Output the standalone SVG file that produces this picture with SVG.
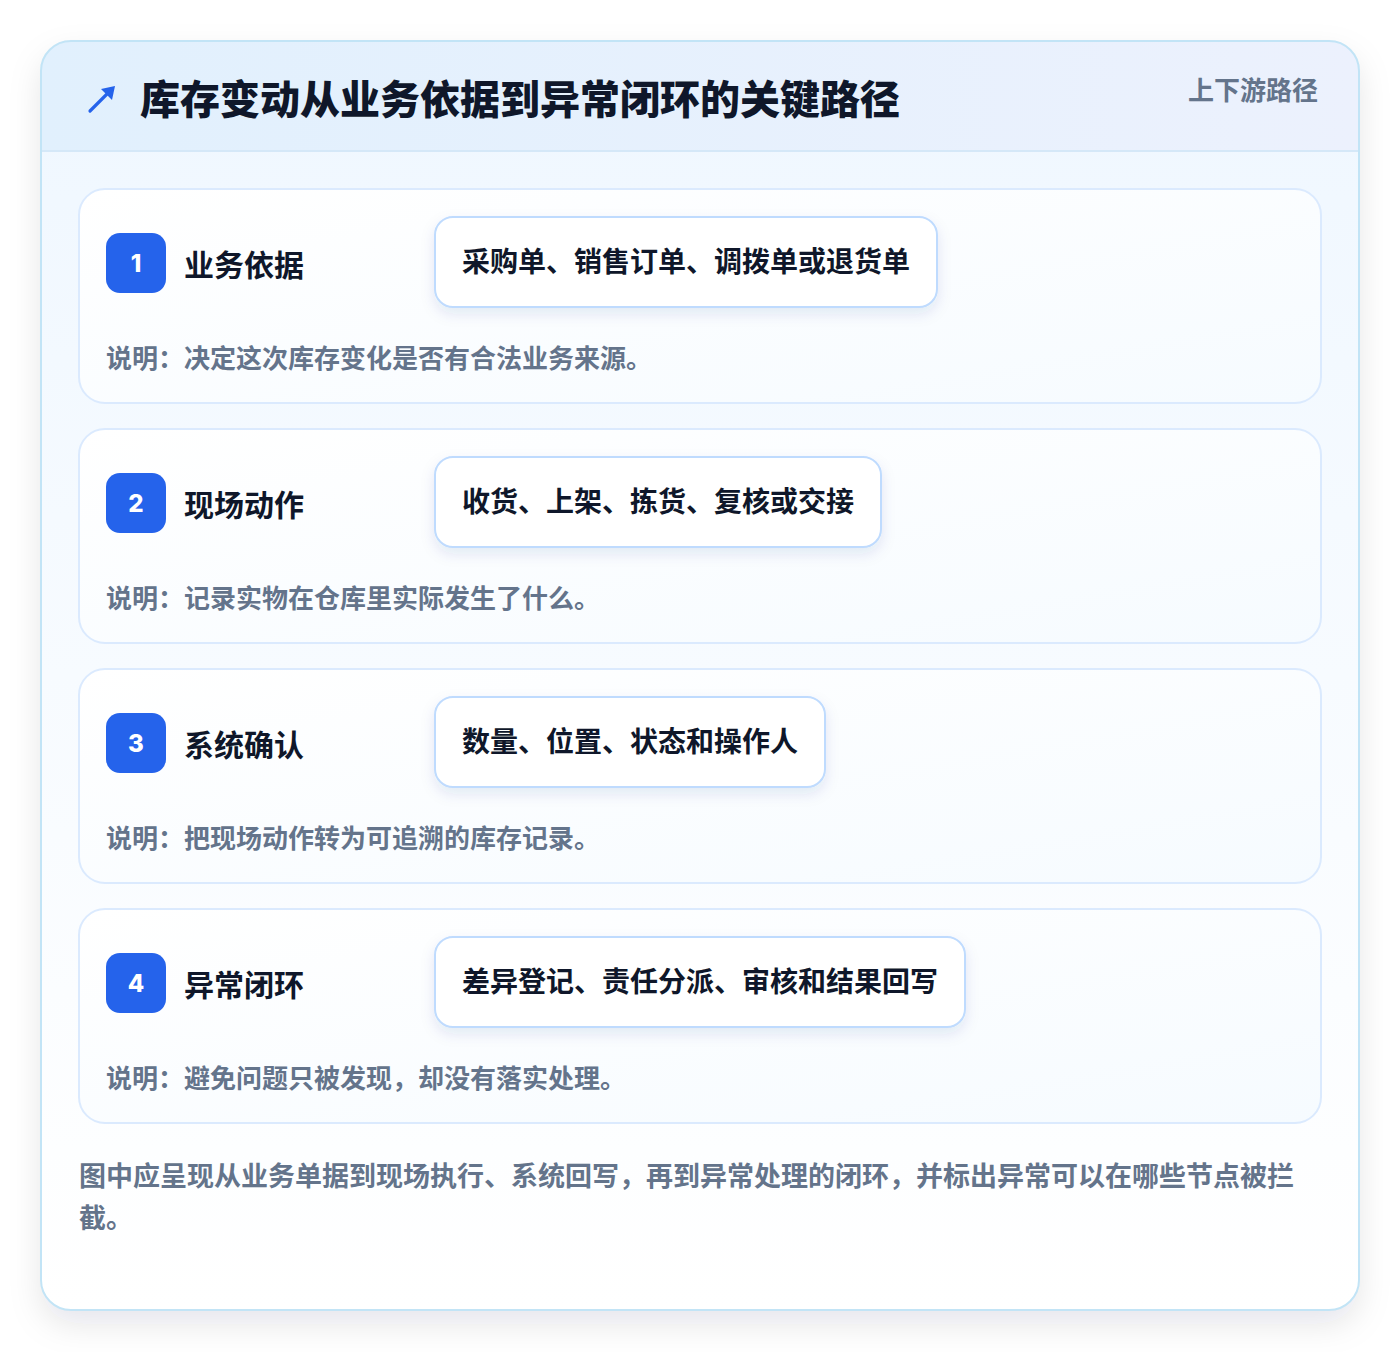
<svg xmlns="http://www.w3.org/2000/svg" width="1400" height="1352" viewBox="0 0 1400 1352">
<defs>
<style>
.cjk{font-family:"Noto Sans CJK SC","Noto Sans",sans-serif;font-weight:700}
.title{font-size:40px;fill:#0f172a;font-weight:900}
.tag{font-size:26px;fill:#64748b}
.step{fill:url(#cardGrad);stroke:#dbeafe;stroke-width:2}
.badge{fill:#2563eb}
.num{font-family:"Inter","Liberation Sans",sans-serif;font-weight:800;font-size:24px;fill:#ffffff}
.stitle{font-size:30px;fill:#0f172a}
.pill{fill:#ffffff;stroke:#bfdbfe;stroke-width:2}
.ptext{font-size:28px;fill:#0f172a}
.desc{font-size:26px;fill:#64748b}
.foot{font-size:27px;fill:#64748b}
</style>
<linearGradient id="outerGrad" x1="0" y1="0" x2="0" y2="1">
<stop offset="0" stop-color="#eff7ff"/>
<stop offset="1" stop-color="#ffffff"/>
</linearGradient>
<linearGradient id="headGrad" x1="0" y1="0" x2="1" y2="0">
<stop offset="0" stop-color="#e1f0fd"/>
<stop offset="1" stop-color="#ecf1fd"/>
</linearGradient>
<linearGradient id="cardGrad" x1="0" y1="0" x2="1" y2="1">
<stop offset="0" stop-color="#ffffff"/>
<stop offset="1" stop-color="#f6fbff"/>
</linearGradient>
<filter id="outerShadow" x="-10%" y="-10%" width="120%" height="120%">
<feDropShadow dx="0" dy="14" stdDeviation="16" flood-color="#0f172a" flood-opacity="0.10"/>
</filter>
<filter id="pillShadow" x="-10%" y="-30%" width="120%" height="160%">
<feDropShadow dx="0" dy="6" stdDeviation="7" flood-color="#1e3a8a" flood-opacity="0.10"/>
</filter>
<clipPath id="outerClip">
<rect x="41" y="41" width="1318" height="1269" rx="30"/>
</clipPath>
</defs>
<rect x="0" y="0" width="1400" height="1352" fill="#ffffff"/>
<g id="frame">
<rect x="41" y="41" width="1318" height="1269" rx="30" fill="url(#outerGrad)" filter="url(#outerShadow)"/>
<g clip-path="url(#outerClip)">
<rect x="41" y="41" width="1318" height="110" fill="url(#headGrad)"/>
<line x1="41" y1="151" x2="1359" y2="151" stroke="#d5e8f8" stroke-width="2"/>
</g>
<rect x="41" y="41" width="1318" height="1269" rx="30" fill="none" stroke="#c2e4f6" stroke-width="2"/>
</g>
<g id="header">
<g id="icon">
<line x1="90" y1="111" x2="108" y2="93" stroke="#2563eb" stroke-width="3.2" stroke-linecap="round"/>
<polygon points="115,86 112,100 101,89" fill="#2563eb"/>
</g>
<text class="cjk title" x="140" y="97" dominant-baseline="central">库存变动从业务依据到异常闭环的关键路径</text>
<text class="cjk tag" x="1318" y="88" text-anchor="end" dominant-baseline="central">上下游路径</text>
</g>
<g id="step1">
<rect class="step" x="79" y="189" width="1242" height="214" rx="26"/>
<rect class="badge" x="106" y="233" width="60" height="60" rx="14"/>
<text class="num" x="136" y="263" text-anchor="middle" dominant-baseline="central">1</text>
<text class="cjk stitle" x="184" y="263" dominant-baseline="central">业务依据</text>
<rect class="pill" x="435" y="217" width="502" height="90" rx="18" filter="url(#pillShadow)"/>
<text class="cjk ptext" x="462" y="260" dominant-baseline="central">采购单、销售订单、调拨单或退货单</text>
<text class="cjk desc" x="106" y="356" dominant-baseline="central">说明：决定这次库存变化是否有合法业务来源。</text>
</g>
<g id="step2">
<rect class="step" x="79" y="429" width="1242" height="214" rx="26"/>
<rect class="badge" x="106" y="473" width="60" height="60" rx="14"/>
<text class="num" x="136" y="503" text-anchor="middle" dominant-baseline="central">2</text>
<text class="cjk stitle" x="184" y="503" dominant-baseline="central">现场动作</text>
<rect class="pill" x="435" y="457" width="446" height="90" rx="18" filter="url(#pillShadow)"/>
<text class="cjk ptext" x="462" y="500" dominant-baseline="central">收货、上架、拣货、复核或交接</text>
<text class="cjk desc" x="106" y="596" dominant-baseline="central">说明：记录实物在仓库里实际发生了什么。</text>
</g>
<g id="step3">
<rect class="step" x="79" y="669" width="1242" height="214" rx="26"/>
<rect class="badge" x="106" y="713" width="60" height="60" rx="14"/>
<text class="num" x="136" y="743" text-anchor="middle" dominant-baseline="central">3</text>
<text class="cjk stitle" x="184" y="743" dominant-baseline="central">系统确认</text>
<rect class="pill" x="435" y="697" width="390" height="90" rx="18" filter="url(#pillShadow)"/>
<text class="cjk ptext" x="462" y="740" dominant-baseline="central">数量、位置、状态和操作人</text>
<text class="cjk desc" x="106" y="836" dominant-baseline="central">说明：把现场动作转为可追溯的库存记录。</text>
</g>
<g id="step4">
<rect class="step" x="79" y="909" width="1242" height="214" rx="26"/>
<rect class="badge" x="106" y="953" width="60" height="60" rx="14"/>
<text class="num" x="136" y="983" text-anchor="middle" dominant-baseline="central">4</text>
<text class="cjk stitle" x="184" y="983" dominant-baseline="central">异常闭环</text>
<rect class="pill" x="435" y="937" width="530" height="90" rx="18" filter="url(#pillShadow)"/>
<text class="cjk ptext" x="462" y="980" dominant-baseline="central">差异登记、责任分派、审核和结果回写</text>
<text class="cjk desc" x="106" y="1076" dominant-baseline="central">说明：避免问题只被发现，却没有落实处理。</text>
</g>
<g id="footnote">
<text class="cjk foot" x="79" y="1174" dominant-baseline="central">图中应呈现从业务单据到现场执行、系统回写，再到异常处理的闭环，并标出异常可以在哪些节点被拦</text>
<text class="cjk foot" x="79" y="1216" dominant-baseline="central">截。</text>
</g>
</svg>
